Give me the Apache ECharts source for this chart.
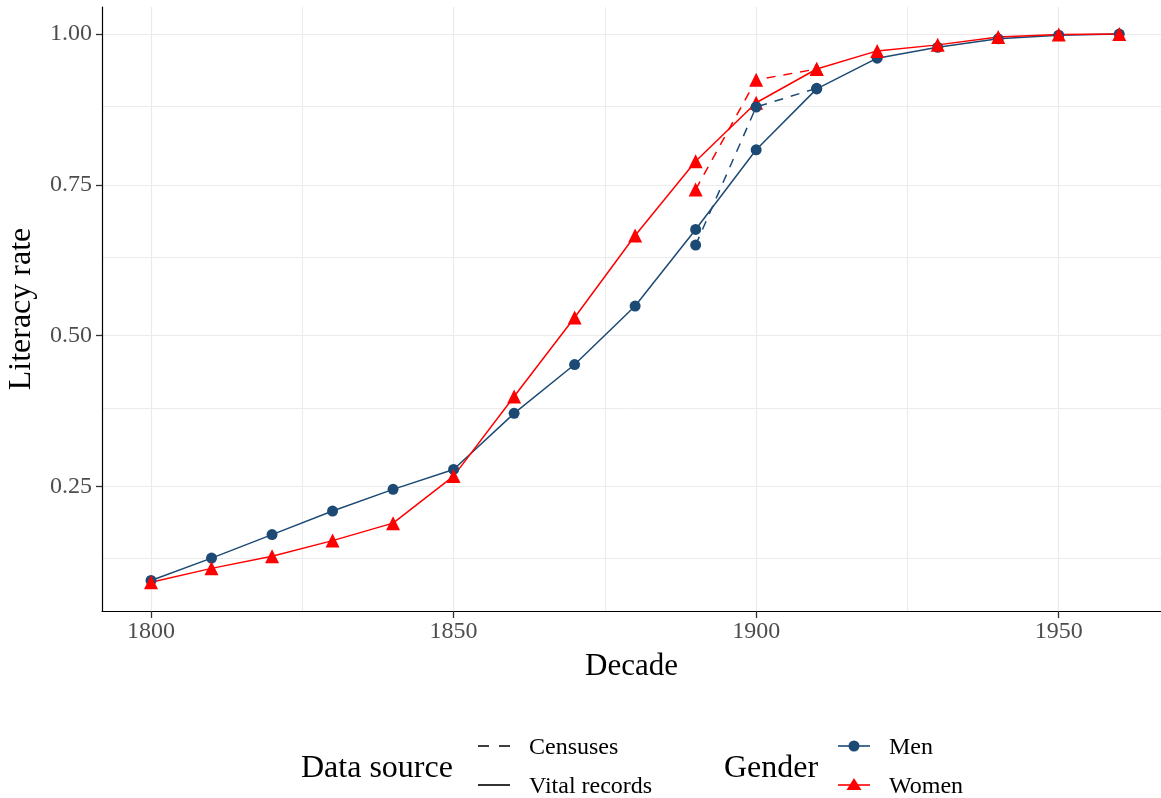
<!DOCTYPE html>
<html>
<head>
<meta charset="utf-8">
<script src="https://cdn.jsdelivr.net/npm/echarts@6/dist/echarts.min.js"></script>
<style>
html,body{margin:0;padding:0;background:#fff;}
#chart{width:1161px;height:798px;}
</style>
</head>
<body>
<div id="chart"></div>
<script>
const decades = [1800,1810,1820,1830,1840,1850,1860,1870,1880,1890,1900,1910,1920,1930,1940,1950,1960];
const menVital   = [0.094,0.131,0.170,0.209,0.245,0.278,0.371,0.452,0.549,0.676,0.808,0.909,0.960,0.978,0.992,0.998,1.000];
const womenVital = [0.091,0.114,0.134,0.160,0.189,0.267,0.399,0.530,0.666,0.789,0.886,0.942,0.972,0.982,0.995,0.999,1.000];
const censusDecades = [1890,1900,1910];
const menCensus   = [0.650,0.879,0.910];
const womenCensus = [0.742,0.924,0.942];
const xTicks = [1800,1850,1900,1950];
const xMinor = [1825,1875,1925];
const yTicks = [0.25,0.50,0.75,1.00];
const yMinor = [0.125,0.375,0.625,0.875];

const FONT = 'Liberation Serif';
const BLUE = '#1c4a74';
const RED = '#ff0000';
const GRID = '#ebebeb';

const pairs = (xs, ys) => xs.map((x, i) => [x, ys[i]]);

const chart = echarts.init(document.getElementById('chart'), null, {renderer: 'canvas'});

const minorLines = xMinor.map(v => ({xAxis: v})).concat(yMinor.map(v => ({yAxis: v})));

const option = {
  backgroundColor: '#ffffff',
  animation: false,
  grid: {left: 102, right: 0, top: 7, bottom: 187, containLabel: false, outerBoundsMode: 'none'},
  xAxis: {
    type: 'value', min: 1791.9, max: 1966.9,
    name: 'Decade', nameLocation: 'middle', nameGap: 40,
    nameTextStyle: {fontFamily: FONT, fontSize: 31, color: '#000'},
    axisLine: {show: true, lineStyle: {color: '#000', width: 1.2}},
    axisTick: {show: true, inside: false, length: 7, customValues: xTicks, lineStyle: {color: '#333', width: 1.3}},
    axisLabel: {customValues: xTicks, color: '#4d4d4d', fontFamily: FONT, fontSize: 24, margin: 9,
      formatter: v => String(v)},
    splitLine: {show: true, lineStyle: {color: GRID, width: 1.2}}
  },
  yAxis: {
    type: 'value', min: 0.0433, max: 1.0448,
    name: 'Literacy rate', nameLocation: 'middle', nameGap: 64, nameRotate: 90,
    nameTextStyle: {fontFamily: FONT, fontSize: 32, color: '#000'},
    axisLine: {show: true, lineStyle: {color: '#000', width: 1.2}},
    axisTick: {show: true, inside: false, length: 6, customValues: yTicks, lineStyle: {color: '#333', width: 1.3}},
    axisLabel: {customValues: yTicks, color: '#4d4d4d', fontFamily: FONT, fontSize: 24, margin: 10,
      formatter: v => v.toFixed(2)},
    splitLine: {show: true, lineStyle: {color: GRID, width: 1.2}}
  },
  series: [
    {
      type: 'line', data: [], silent: true, z: 0,
      markLine: {silent: true, symbol: 'none', z: 0, label: {show: false},
        lineStyle: {color: GRID, width: 1, type: 'solid'}, data: minorLines, animation: false}
    },
    {
      name: 'Men vital', type: 'line', data: pairs(decades, menVital), z: 3,
      symbol: 'circle', symbolSize: 11, showAllSymbol: true,
      itemStyle: {color: BLUE}, lineStyle: {color: BLUE, width: 1.5}
    },
    {
      name: 'Women vital', type: 'line', data: pairs(decades, womenVital), z: 3,
      symbol: 'triangle', symbolSize: 14, showAllSymbol: true,
      itemStyle: {color: RED}, lineStyle: {color: RED, width: 1.5}
    },
    {
      name: 'Men census', type: 'line', data: pairs(censusDecades, menCensus), z: 3,
      symbol: 'circle', symbolSize: 11, showAllSymbol: true,
      itemStyle: {color: BLUE}, lineStyle: {color: BLUE, width: 1.5, type: [9, 8]}
    },
    {
      name: 'Women census', type: 'line', data: pairs(censusDecades, womenCensus), z: 3,
      symbol: 'triangle', symbolSize: 14, showAllSymbol: true,
      itemStyle: {color: RED}, lineStyle: {color: RED, width: 1.5, type: [9, 8]}
    }
  ],
  graphic: [
    {type: 'text', left: 301, top: 767 - 14, style: {text: 'Data source', fontFamily: FONT, fontSize: 32, fill: '#000'}},
    {type: 'line', shape: {x1: 478, y1: 746, x2: 510, y2: 746}, style: {stroke: '#000', lineWidth: 1.6, lineDash: [11, 10]}},
    {type: 'line', shape: {x1: 478, y1: 785, x2: 510, y2: 785}, style: {stroke: '#000', lineWidth: 1.6}},
    {type: 'text', left: 529, top: 746 - 10, style: {text: 'Censuses', fontFamily: FONT, fontSize: 24, fill: '#000'}},
    {type: 'text', left: 529, top: 785 - 10, style: {text: 'Vital records', fontFamily: FONT, fontSize: 24, fill: '#000'}},
    {type: 'text', left: 724, top: 767 - 14, style: {text: 'Gender', fontFamily: FONT, fontSize: 32, fill: '#000'}},
    {type: 'line', shape: {x1: 838, y1: 746, x2: 870, y2: 746}, style: {stroke: BLUE, lineWidth: 1.6}},
    {type: 'circle', shape: {cx: 854, cy: 746, r: 5.5}, style: {fill: BLUE}},
    {type: 'line', shape: {x1: 838, y1: 785, x2: 870, y2: 785}, style: {stroke: RED, lineWidth: 1.6}},
    {type: 'polygon', shape: {points: [[854, 778], [861.5, 790], [846.5, 790]]}, style: {fill: RED}},
    {type: 'text', left: 889, top: 746 - 10, style: {text: 'Men', fontFamily: FONT, fontSize: 24, fill: '#000'}},
    {type: 'text', left: 889, top: 785 - 10, style: {text: 'Women', fontFamily: FONT, fontSize: 24, fill: '#000'}}
  ]
};
chart.setOption(option);
</script>
</body>
</html>
